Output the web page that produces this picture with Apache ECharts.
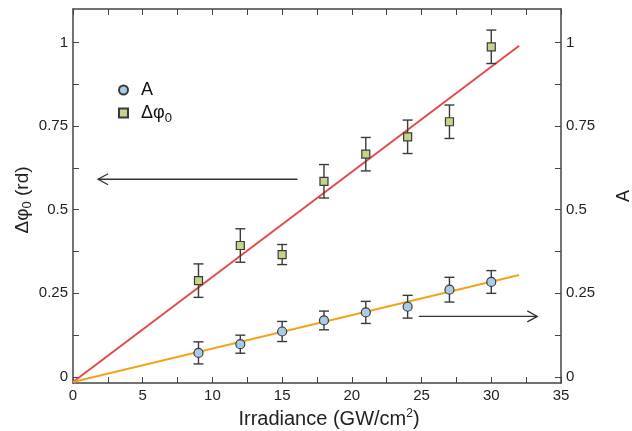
<!DOCTYPE html>
<html><head><meta charset="utf-8">
<script src="https://cdn.jsdelivr.net/npm/echarts@6/dist/echarts.min.js"></script>
<style>html,body{margin:0;padding:0;background:#fff}#c{width:632px;height:431px}</style>
</head><body><div id="c"></div>
<script>
// Data
var irradiance = [9, 12, 15, 18, 21, 24, 27, 30];
var aValues   = [0.072, 0.098, 0.136, 0.169, 0.193, 0.210, 0.261, 0.284];
var aErrors   = [0.033, 0.027, 0.030, 0.028, 0.033, 0.034, 0.037, 0.034];
var phiValues = [0.288, 0.393, 0.366, 0.585, 0.666, 0.718, 0.763, 0.987];
var phiErrors = [0.050, 0.050, 0.030, 0.050, 0.050, 0.050, 0.050, 0.050];
var fitA   = [[0, -0.015], [32, 0.305]];
var fitPhi = [[0, -0.015], [32, 0.990]];
var arrowLeft  = [16.1, 0.591, 1.8, 0.591];
var arrowRight = [24.8, 0.181, 33.3, 0.181];
var yTicks = [0, 0.25, 0.5, 0.75, 1];
var yMinor = [0, 0.125, 0.25, 0.375, 0.5, 0.625, 0.75, 0.875, 1];

var FONT = 'Liberation Sans, Arial, sans-serif';
var AX = '#444';

function errData(vals, errs) {
  return irradiance.map(function (x, i) { return [x, vals[i] - errs[i], vals[i] + errs[i]]; });
}
function pts(vals) { return irradiance.map(function (x, i) { return [x, vals[i]]; }); }

function errRender(params, api) {
  var x = api.value(0), lo = api.value(1), hi = api.value(2);
  var p1 = api.coord([x, hi]), p2 = api.coord([x, lo]);
  var w = 5, st = { stroke: '#3a3a3a', lineWidth: 1.4 };
  return { type: 'group', children: [
    { type: 'line', shape: { x1: p1[0], y1: p1[1], x2: p2[0], y2: p2[1] }, style: st },
    { type: 'line', shape: { x1: p1[0] - w, y1: p1[1], x2: p1[0] + w, y2: p1[1] }, style: st },
    { type: 'line', shape: { x1: p2[0] - w, y1: p2[1], x2: p2[0] + w, y2: p2[1] }, style: st }
  ]};
}
function arrowRender(params, api) {
  var a = api.coord([api.value(0), api.value(1)]);
  var b = api.coord([api.value(2), api.value(3)]);
  var dx = b[0] - a[0], dy = b[1] - a[1], L = Math.sqrt(dx * dx + dy * dy);
  var ux = dx / L, uy = dy / L, nx = -uy, ny = ux;
  var h = 10, s = 5.5;
  var st = { stroke: '#333', lineWidth: 1.3, fill: null };
  return { type: 'group', children: [
    { type: 'line', shape: { x1: a[0], y1: a[1], x2: b[0], y2: b[1] }, style: st },
    { type: 'polyline', shape: { points: [
      [b[0] - h * ux + s * nx, b[1] - h * uy + s * ny], [b[0], b[1]],
      [b[0] - h * ux - s * nx, b[1] - h * uy - s * ny]] }, style: st }
  ]};
}

var yBase = {
  type: 'value', min: -0.018, max: 1.1,
  axisLine: { show: true, onZero: false, lineStyle: { color: AX, width: 1.5 } },
  axisTick: { show: true, inside: true, length: 6, customValues: yMinor, lineStyle: { color: AX } },
  axisLabel: { customValues: yTicks, fontFamily: FONT, fontSize: 15, color: '#222', margin: 5 },
  splitLine: { show: false }
};
var xBase = {
  type: 'value', min: 0, max: 35, interval: 5,
  axisLine: { show: true, onZero: false, lineStyle: { color: AX, width: 1.5 } },
  axisTick: { show: true, inside: true, length: 6, lineStyle: { color: AX } },
  minorTick: { show: true, splitNumber: 2, length: 6, lineStyle: { color: AX } },
  splitLine: { show: false }
};

var option = {
  animation: false,
  backgroundColor: '#fff',
  grid: { left: 73, right: 71, top: 9, bottom: 48, outerBoundsMode: 'none', containLabel: false },
  legend: {
    data: ['A', 'Δφ0'], orient: 'vertical', left: 118, top: 81, itemGap: 5, padding: 0,
    itemWidth: 9, itemHeight: 9,
    formatter: function (n) { return n === 'A' ? '{a|A}' : '{a|Δφ}{s|0}'; },
    textStyle: { fontFamily: FONT, color: '#111', rich: {
      a: { fontFamily: FONT, fontSize: 18, color: '#111', padding: [0, 0, 0, 8] },
      s: { fontFamily: FONT, fontSize: 13, color: '#111', padding: [10, 0, 0, 0] } } }
  },
  xAxis: [Object.assign({}, xBase, {
    position: 'bottom',
    name: 'Irradiance (GW/cm{sup|2})', nameLocation: 'middle', nameGap: 25,
    nameTextStyle: { fontFamily: FONT, fontSize: 20, color: '#222', padding: [0, 0, 0, 24],
      rich: { sup: { fontFamily: FONT, fontSize: 12, color: '#222', padding: [0, 0, 10, 0] } } },
    axisLabel: { fontFamily: FONT, fontSize: 15, color: '#222', margin: 5 }
  }), Object.assign({}, xBase, {
    position: 'top', axisLabel: { show: false }
  })],
  yAxis: [
    Object.assign({}, yBase, {
      position: 'left',
      name: '{a|Δφ}{s|0}{a| (rd)}', nameLocation: 'middle', nameGap: 39, nameMoveOverlap: false,
      nameTextStyle: { fontFamily: FONT, color: '#222', padding: [0, 8, 0, 0], rich: {
        a: { fontFamily: FONT, fontSize: 19, color: '#222' },
        s: { fontFamily: FONT, fontSize: 13, color: '#222', padding: [10, 0, 0, 0] } } }
    }),
    Object.assign({}, yBase, {
      position: 'right',
      name: 'A', nameLocation: 'middle', nameGap: 54, nameRotate: 90, nameMoveOverlap: false,
      nameTextStyle: { fontFamily: FONT, fontSize: 18, color: '#222' }
    })
  ],
  series: [
    { type: 'line', data: fitPhi, yAxisIndex: 0, symbol: 'none', z: 2,
      lineStyle: { color: '#e5484b', width: 2 }, silent: true },
    { type: 'line', data: fitA, yAxisIndex: 1, symbol: 'none', z: 2,
      lineStyle: { color: '#f0a41e', width: 2 }, silent: true },
    { type: 'custom', yAxisIndex: 0, data: errData(phiValues, phiErrors), renderItem: errRender, z: 3,
      encode: { x: 0, y: [1, 2] } },
    { type: 'custom', yAxisIndex: 1, data: errData(aValues, aErrors), renderItem: errRender, z: 3,
      encode: { x: 0, y: [1, 2] } },
    { type: 'custom', yAxisIndex: 0, data: [arrowLeft, arrowRight], renderItem: arrowRender, z: 3,
      encode: { x: [0, 2], y: [1, 3] } },
    { name: 'A', type: 'scatter', yAxisIndex: 1, data: pts(aValues), symbol: 'circle', symbolSize: 9, z: 5,
      itemStyle: { color: '#a9cbe6', borderColor: '#3a3a3a', borderWidth: 1.2, opacity: 1 } },
    { name: 'Δφ0', type: 'scatter', yAxisIndex: 0, data: pts(phiValues), symbol: 'rect', symbolSize: 8, z: 5,
      itemStyle: { color: '#c3d58b', borderColor: '#3a3a3a', borderWidth: 1.2, opacity: 1 } }
  ]
};
var chart = echarts.init(document.getElementById('c'), null, { renderer: 'canvas' });
chart.setOption(option);
</script></body></html>
